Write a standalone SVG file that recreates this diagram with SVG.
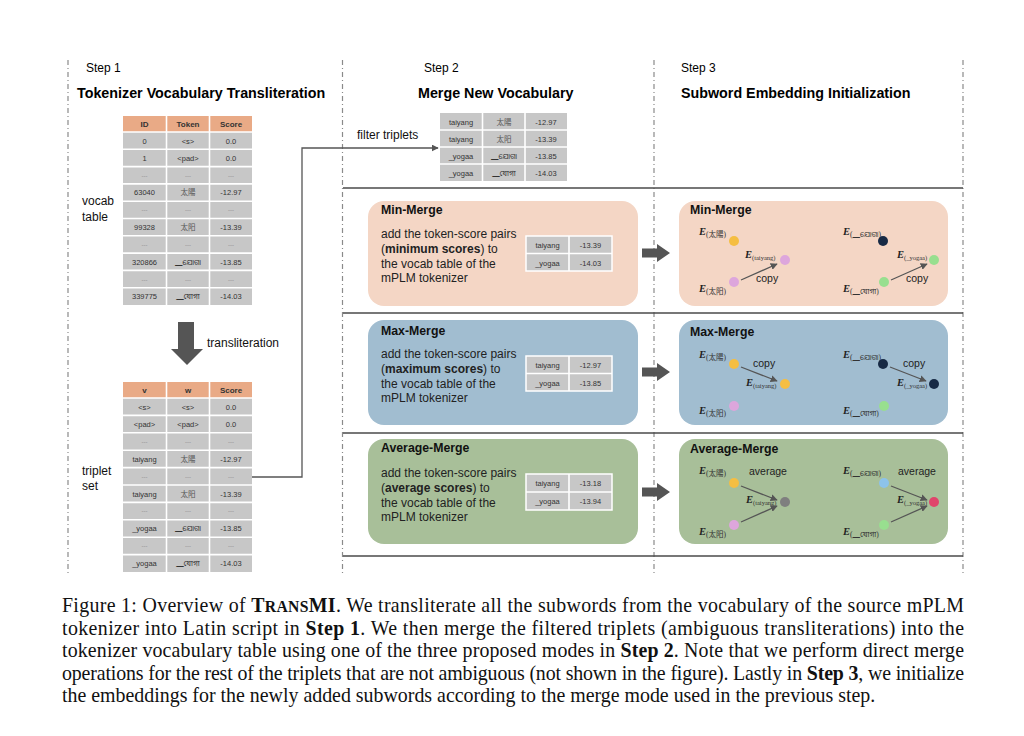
<svg xmlns="http://www.w3.org/2000/svg" width="1024" height="736" viewBox="0 0 1024 736">
<defs>
<style>
.hdr{font-family:"Liberation Sans",Arial,sans-serif;font-size:14.3px;font-weight:bold;fill:#000}
.step{font-family:"Liberation Sans",Arial,sans-serif;font-size:12px;fill:#000}
.lbl{font-family:"Liberation Sans",Arial,sans-serif;font-size:12px;fill:#111}
.hcell{fill:#E9AA86}
.cell{fill:#C7C7C7}
.grid{stroke:#fff;stroke-width:1.6}
.ct{font-family:"Liberation Sans",Arial,"Noto Sans Bengali","Noto Sans Oriya","Noto Sans CJK JP",sans-serif;font-size:7.5px;fill:#333;text-anchor:middle}
.cjk{font-family:"Noto Sans CJK JP","Noto Sans CJK SC",serif;font-size:7.5px;fill:#555;text-anchor:middle}
.cth{font-family:"Liberation Sans",Arial,sans-serif;font-size:8px;font-weight:bold;fill:#333;text-anchor:middle}
.dd{font-family:"Liberation Sans",Arial,sans-serif;font-size:6px;fill:#888;text-anchor:middle}
.dash{stroke:#8a8a8a;stroke-width:1.2;stroke-dasharray:5 3 1 3;fill:none}
.sep{stroke:#4a4a4a;stroke-width:1.4}
.ttl{font-family:"Liberation Sans",Arial,sans-serif;font-size:12.3px;font-weight:bold;fill:#111}
.body{font-family:"Liberation Sans",Arial,sans-serif;font-size:12px;fill:#222}
.small{font-family:"Liberation Sans",Arial,sans-serif;font-size:10.5px;fill:#222}
.E{font-family:"Liberation Serif","Times New Roman",serif;font-size:10.5px;font-weight:bold;font-style:italic;fill:#222}
.sub{font-family:"Liberation Serif","Noto Sans CJK JP","Noto Sans Bengali","Noto Sans Oriya",serif;font-size:7.5px;fill:#333}
.subl{font-family:"Liberation Serif","Times New Roman",serif;font-size:6.5px;fill:#333}
.bigarrow{fill:#555}
.thin{stroke:#555;stroke-width:1.3;fill:none}
.cap{font-family:"Liberation Serif","Times New Roman",serif;font-size:19.9px;fill:#111}
</style>
<marker id="ah" viewBox="0 0 10 10" refX="9" refY="5" markerWidth="7" markerHeight="7" orient="auto" markerUnits="userSpaceOnUse">
<path d="M0,0 L10,5 L0,10 z" fill="#555"/>
</marker>
</defs>
<rect width="1024" height="736" fill="#fff"/>

<g id="frame">
<line class="dash" x1="68" y1="60" x2="68" y2="576"/>
<line class="dash" x1="342.5" y1="60" x2="342.5" y2="576"/>
<line class="dash" x1="654" y1="60" x2="654" y2="576"/>
<line class="dash" x1="963" y1="60" x2="963" y2="576"/>
<line class="sep" x1="343" y1="188" x2="963" y2="188"/>
<line class="sep" x1="343" y1="313" x2="963" y2="313"/>
<line class="sep" x1="343" y1="433" x2="963" y2="433"/>
<line class="sep" x1="343" y1="556" x2="963" y2="556"/>
</g>

<g id="headers">
<text class="step" x="86" y="72">Step 1</text>
<text class="hdr" x="77" y="98">Tokenizer Vocabulary Transliteration</text>
<text class="step" x="424" y="72">Step 2</text>
<text class="hdr" x="418" y="98">Merge New Vocabulary</text>
<text class="step" x="681" y="72">Step 3</text>
<text class="hdr" x="681" y="98">Subword Embedding Initialization</text>
</g>

<g id="vocab-table">
<text class="lbl" x="82" y="205">vocab</text>
<text class="lbl" x="82" y="221">table</text>
<rect class="hcell" x="123" y="116" width="129" height="16"/>
<rect class="cell" x="123" y="132" width="129" height="173"/>
<g class="grid">
<line x1="166.5" y1="116" x2="166.5" y2="305"/><line x1="209.5" y1="116" x2="209.5" y2="305"/>
<line x1="123" y1="132" x2="252" y2="132"/><line x1="123" y1="149.3" x2="252" y2="149.3"/>
<line x1="123" y1="166.6" x2="252" y2="166.6"/><line x1="123" y1="183.9" x2="252" y2="183.9"/>
<line x1="123" y1="201.2" x2="252" y2="201.2"/><line x1="123" y1="218.5" x2="252" y2="218.5"/>
<line x1="123" y1="235.8" x2="252" y2="235.8"/><line x1="123" y1="253.1" x2="252" y2="253.1"/>
<line x1="123" y1="270.4" x2="252" y2="270.4"/><line x1="123" y1="287.7" x2="252" y2="287.7"/>
</g>
<text class="cth" x="144.5" y="127">ID</text><text class="cth" x="188" y="127">Token</text><text class="cth" x="231" y="127">Score</text>
<text class="ct" x="144.5" y="143.5">0</text><text class="ct" x="188" y="143.5">&lt;s&gt;</text><text class="ct" x="231" y="143.5">0.0</text>
<text class="ct" x="144.5" y="160.8">1</text><text class="ct" x="188" y="160.8">&lt;pad&gt;</text><text class="ct" x="231" y="160.8">0.0</text>
<text class="dd" x="144.5" y="177.5">---</text><text class="dd" x="188" y="177.5">---</text><text class="dd" x="231" y="177.5">---</text>
<text class="ct" x="144.5" y="195.4">63040</text><text class="cjk" x="188" y="195.4">太陽</text><text class="ct" x="231" y="195.4">-12.97</text>
<text class="dd" x="144.5" y="212">---</text><text class="dd" x="188" y="212">---</text><text class="dd" x="231" y="212">---</text>
<text class="ct" x="144.5" y="230">99328</text><text class="cjk" x="188" y="230">太阳</text><text class="ct" x="231" y="230">-13.39</text>
<text class="dd" x="144.5" y="247">---</text><text class="dd" x="188" y="247">---</text><text class="dd" x="231" y="247">---</text>
<text class="ct" x="144.5" y="264.6">320866</text><text class="ct" x="188" y="264.6">▁ଯୋଗା</text><text class="ct" x="231" y="264.6">-13.85</text>
<text class="dd" x="144.5" y="281.5">---</text><text class="dd" x="188" y="281.5">---</text><text class="dd" x="231" y="281.5">---</text>
<text class="ct" x="144.5" y="299">339775</text><text class="ct" x="188" y="299">▁যোগা</text><text class="ct" x="231" y="299">-14.03</text>
</g>

<g id="translit-arrow">
<polygon class="bigarrow" points="178,322 194,322 194,349 203,349 187,365 171,349 178,349"/>
<text class="lbl" x="207" y="347">transliteration</text>
</g>

<g id="triplet-table">
<text class="lbl" x="82" y="475">triplet</text>
<text class="lbl" x="82" y="490">set</text>
<rect class="hcell" x="123" y="382" width="129" height="16"/>
<rect class="cell" x="123" y="398" width="129" height="174"/>
<g class="grid">
<line x1="166.5" y1="382" x2="166.5" y2="572"/><line x1="209.5" y1="382" x2="209.5" y2="572"/>
<line x1="123" y1="398" x2="252" y2="398"/><line x1="123" y1="415.4" x2="252" y2="415.4"/>
<line x1="123" y1="432.8" x2="252" y2="432.8"/><line x1="123" y1="450.2" x2="252" y2="450.2"/>
<line x1="123" y1="467.6" x2="252" y2="467.6"/><line x1="123" y1="485" x2="252" y2="485"/>
<line x1="123" y1="502.4" x2="252" y2="502.4"/><line x1="123" y1="519.8" x2="252" y2="519.8"/>
<line x1="123" y1="537.2" x2="252" y2="537.2"/><line x1="123" y1="554.6" x2="252" y2="554.6"/>
</g>
<text class="cth" x="144.5" y="393">v</text><text class="cth" x="188" y="393">w</text><text class="cth" x="231" y="393">Score</text>
<text class="ct" x="144.5" y="409.5">&lt;s&gt;</text><text class="ct" x="188" y="409.5">&lt;s&gt;</text><text class="ct" x="231" y="409.5">0.0</text>
<text class="ct" x="144.5" y="427">&lt;pad&gt;</text><text class="ct" x="188" y="427">&lt;pad&gt;</text><text class="ct" x="231" y="427">0.0</text>
<text class="dd" x="144.5" y="443.5">---</text><text class="dd" x="188" y="443.5">---</text><text class="dd" x="231" y="443.5">---</text>
<text class="ct" x="144.5" y="461.8">taiyang</text><text class="cjk" x="188" y="461.8">太陽</text><text class="ct" x="231" y="461.8">-12.97</text>
<text class="dd" x="144.5" y="478.5">---</text><text class="dd" x="188" y="478.5">---</text><text class="dd" x="231" y="478.5">---</text>
<text class="ct" x="144.5" y="496.6">taiyang</text><text class="cjk" x="188" y="496.6">太阳</text><text class="ct" x="231" y="496.6">-13.39</text>
<text class="dd" x="144.5" y="513">---</text><text class="dd" x="188" y="513">---</text><text class="dd" x="231" y="513">---</text>
<text class="ct" x="144.5" y="531.4">_yogaa</text><text class="ct" x="188" y="531.4">▁ଯୋଗା</text><text class="ct" x="231" y="531.4">-13.85</text>
<text class="dd" x="144.5" y="548">---</text><text class="dd" x="188" y="548">---</text><text class="dd" x="231" y="548">---</text>
<text class="ct" x="144.5" y="566">_yogaa</text><text class="ct" x="188" y="566">▁যোগা</text><text class="ct" x="231" y="566">-14.03</text>
</g>

<g id="connectors">
<path class="thin" d="M252,477 H302 V148 H438" marker-end="url(#ah)"/>
<polygon class="bigarrow" points="642,248.5 657,248.5 657,244 670,253 657,262 657,257.5 642,257.5"/>
<polygon class="bigarrow" points="642,367.5 657,367.5 657,363 670,372 657,381 657,376.5 642,376.5"/>
<polygon class="bigarrow" points="642,487.5 657,487.5 657,483 670,492 657,501 657,496.5 642,496.5"/>
</g>

<g id="filtered-table">
<text class="lbl" x="357" y="139">filter triplets</text>
<rect class="cell" x="440" y="113" width="127" height="68"/>
<g class="grid">
<line x1="482.5" y1="113" x2="482.5" y2="181"/><line x1="525" y1="113" x2="525" y2="181"/>
<line x1="440" y1="130" x2="567" y2="130"/><line x1="440" y1="147" x2="567" y2="147"/><line x1="440" y1="164" x2="567" y2="164"/>
</g>
<text class="ct" x="461" y="124.5">taiyang</text><text class="cjk" x="504" y="124.5">太陽</text><text class="ct" x="546" y="124.5">-12.97</text>
<text class="ct" x="461" y="141.5">taiyang</text><text class="cjk" x="504" y="141.5">太阳</text><text class="ct" x="546" y="141.5">-13.39</text>
<text class="ct" x="461" y="158.5">_yogaa</text><text class="ct" x="504" y="158.5">▁ଯୋଗା</text><text class="ct" x="546" y="158.5">-13.85</text>
<text class="ct" x="461" y="175.5">_yogaa</text><text class="ct" x="504" y="175.5">▁যোগা</text><text class="ct" x="546" y="175.5">-14.03</text>
</g>

<g id="min-merge-vocab">
<rect x="368" y="201" width="270" height="105" rx="16" fill="#F4D6C5"/>
<text class="ttl" x="381" y="214">Min-Merge</text>
<text class="body" x="381" y="238">add the token-score pairs</text>
<text class="body" x="381" y="253">(<tspan font-weight="bold">minimum scores</tspan>) to</text>
<text class="body" x="381" y="268">the vocab table of the</text>
<text class="body" x="381" y="282">mPLM tokenizer</text>
<rect class="cell" x="526" y="236" width="86" height="35"/>
<g class="grid"><line x1="569" y1="236" x2="569" y2="271"/><line x1="526" y1="253.5" x2="612" y2="253.5"/></g>
<rect x="526" y="236" width="86" height="35" fill="none" stroke="#fff" stroke-width="1.5"/>
<text class="ct" x="547.5" y="248">taiyang</text><text class="ct" x="590.5" y="248">-13.39</text>
<text class="ct" x="547.5" y="265.5">_yogaa</text><text class="ct" x="590.5" y="265.5">-14.03</text>
</g>

<g id="max-merge-vocab">
<rect x="368" y="320" width="270" height="105" rx="16" fill="#A1BDD0"/>
<text class="ttl" x="381" y="335">Max-Merge</text>
<text class="body" x="381" y="358">add the token-score pairs</text>
<text class="body" x="381" y="373">(<tspan font-weight="bold">maximum scores</tspan>) to</text>
<text class="body" x="381" y="388">the vocab table of the</text>
<text class="body" x="381" y="402">mPLM tokenizer</text>
<rect class="cell" x="526" y="356" width="86" height="35"/>
<g class="grid"><line x1="569" y1="356" x2="569" y2="391"/><line x1="526" y1="373.5" x2="612" y2="373.5"/></g>
<rect x="526" y="356" width="86" height="35" fill="none" stroke="#fff" stroke-width="1.5"/>
<text class="ct" x="547.5" y="368">taiyang</text><text class="ct" x="590.5" y="368">-12.97</text>
<text class="ct" x="547.5" y="385.5">_yogaa</text><text class="ct" x="590.5" y="385.5">-13.85</text>
</g>

<g id="avg-merge-vocab">
<rect x="368" y="439" width="270" height="105" rx="16" fill="#A8BF99"/>
<text class="ttl" x="381" y="452">Average-Merge</text>
<text class="body" x="381" y="477">add the token-score pairs</text>
<text class="body" x="381" y="492">(<tspan font-weight="bold">average scores</tspan>) to</text>
<text class="body" x="381" y="507">the vocab table of the</text>
<text class="body" x="381" y="521">mPLM tokenizer</text>
<rect class="cell" x="526" y="474" width="86" height="36"/>
<g class="grid"><line x1="569" y1="474" x2="569" y2="510"/><line x1="526" y1="492" x2="612" y2="492"/></g>
<rect x="526" y="474" width="86" height="36" fill="none" stroke="#fff" stroke-width="1.5"/>
<text class="ct" x="547.5" y="486">taiyang</text><text class="ct" x="590.5" y="486">-13.18</text>
<text class="ct" x="547.5" y="504">_yogaa</text><text class="ct" x="590.5" y="504">-13.94</text>
</g>

<g id="min-merge-emb">
<rect x="679" y="201" width="269" height="105" rx="16" fill="#F4D6C5"/>
<text class="ttl" x="690" y="214">Min-Merge</text>
<text x="699" y="235"><tspan class="E">E</tspan><tspan class="sub" dy="2">(太陽)</tspan></text>
<circle cx="734" cy="241" r="5" fill="#F5BE42"/>
<text x="745" y="258"><tspan class="E">E</tspan><tspan class="subl" dy="2">(taiyang)</tspan></text>
<circle cx="785" cy="260" r="5" fill="#DDA6DC"/>
<circle cx="734" cy="282" r="5" fill="#DDA6DC"/>
<text x="699" y="292"><tspan class="E">E</tspan><tspan class="sub" dy="2">(太阳)</tspan></text>
<line class="thin" x1="741" y1="280" x2="777" y2="264" marker-end="url(#ah)"/>
<text class="small" x="756" y="282">copy</text>
<text x="843" y="235"><tspan class="E">E</tspan><tspan class="sub" dy="2">(▁ଯୋଗା)</tspan></text>
<circle cx="883" cy="241" r="5" fill="#172A45"/>
<text x="897" y="258"><tspan class="E">E</tspan><tspan class="subl" dy="2">(_yogaa)</tspan></text>
<circle cx="934" cy="260" r="5" fill="#98DF8F"/>
<circle cx="884" cy="282" r="5" fill="#98DF8F"/>
<text x="843" y="292"><tspan class="E">E</tspan><tspan class="sub" dy="2">(▁যোগা)</tspan></text>
<line class="thin" x1="891" y1="280" x2="927" y2="264" marker-end="url(#ah)"/>
<text class="small" x="906" y="282">copy</text>
</g>

<g id="max-merge-emb">
<rect x="679" y="320" width="269" height="105" rx="16" fill="#A1BDD0"/>
<text class="ttl" x="690" y="336">Max-Merge</text>
<text x="699" y="358"><tspan class="E">E</tspan><tspan class="sub" dy="2">(太陽)</tspan></text>
<circle cx="734" cy="364" r="5" fill="#F5BE42"/>
<text class="small" x="753" y="367">copy</text>
<line class="thin" x1="741" y1="367" x2="777" y2="381" marker-end="url(#ah)"/>
<text x="746" y="386"><tspan class="E">E</tspan><tspan class="subl" dy="2">(taiyang)</tspan></text>
<circle cx="785" cy="384" r="5" fill="#F5BE42"/>
<circle cx="734" cy="406" r="5" fill="#DDA6DC"/>
<text x="699" y="414"><tspan class="E">E</tspan><tspan class="sub" dy="2">(太阳)</tspan></text>
<text x="843" y="358"><tspan class="E">E</tspan><tspan class="sub" dy="2">(▁ଯୋଗା)</tspan></text>
<circle cx="883" cy="364" r="5" fill="#172A45"/>
<text class="small" x="903" y="367">copy</text>
<line class="thin" x1="890" y1="367" x2="926" y2="381" marker-end="url(#ah)"/>
<text x="897" y="386"><tspan class="E">E</tspan><tspan class="subl" dy="2">(_yogaa)</tspan></text>
<circle cx="934" cy="384" r="5" fill="#172A45"/>
<circle cx="884" cy="406" r="5" fill="#98DF8F"/>
<text x="843" y="414"><tspan class="E">E</tspan><tspan class="sub" dy="2">(▁যোগা)</tspan></text>
</g>

<g id="avg-merge-emb">
<rect x="679" y="439" width="269" height="105" rx="16" fill="#A8BF99"/>
<text class="ttl" x="690" y="453">Average-Merge</text>
<text x="699" y="474"><tspan class="E">E</tspan><tspan class="sub" dy="2">(太陽)</tspan></text>
<circle cx="734" cy="483" r="5" fill="#F5BE42"/>
<text class="small" x="749" y="475">average</text>
<line class="thin" x1="741" y1="486" x2="777" y2="500" marker-end="url(#ah)"/>
<text x="746" y="503"><tspan class="E">E</tspan><tspan class="subl" dy="2">(taiyang)</tspan></text>
<circle cx="785" cy="502" r="5" fill="#7F7F7F"/>
<circle cx="734" cy="525" r="5" fill="#DDA6DC"/>
<line class="thin" x1="741" y1="522" x2="777" y2="506" marker-end="url(#ah)"/>
<text x="699" y="535"><tspan class="E">E</tspan><tspan class="sub" dy="2">(太阳)</tspan></text>
<text x="843" y="474"><tspan class="E">E</tspan><tspan class="sub" dy="2">(▁ଯୋଗା)</tspan></text>
<circle cx="884" cy="483" r="5" fill="#8DC3EA"/>
<text class="small" x="898" y="475">average</text>
<line class="thin" x1="891" y1="486" x2="927" y2="500" marker-end="url(#ah)"/>
<text x="897" y="503"><tspan class="E">E</tspan><tspan class="subl" dy="2">(_yogaa)</tspan></text>
<circle cx="934" cy="502" r="5" fill="#E0456B"/>
<circle cx="884" cy="525" r="5" fill="#98DF8F"/>
<line class="thin" x1="891" y1="522" x2="927" y2="506" marker-end="url(#ah)"/>
<text x="843" y="535"><tspan class="E">E</tspan><tspan class="sub" dy="2">(▁যোগা)</tspan></text>
</g>

<g id="caption">
<text class="cap" x="62" y="612" textLength="902" lengthAdjust="spacing">Figure 1: Overview of <tspan font-weight="bold">T<tspan font-size="15.7">RANS</tspan>MI</tspan>. We transliterate all the subwords from the vocabulary of the source mPLM</text>
<text class="cap" x="62" y="634.6" textLength="902" lengthAdjust="spacing">tokenizer into Latin script in <tspan font-weight="bold">Step 1</tspan>.  We then merge the filtered triplets (ambiguous transliterations) into the</text>
<text class="cap" x="62" y="657.2" textLength="902" lengthAdjust="spacing">tokenizer vocabulary table using one of the three proposed modes in <tspan font-weight="bold">Step 2</tspan>. Note that we perform direct merge</text>
<text class="cap" x="62" y="679.8" textLength="902" lengthAdjust="spacing">operations for the rest of the triplets that are not ambiguous (not shown in the figure). Lastly in <tspan font-weight="bold">Step 3</tspan>, we initialize</text>
<text class="cap" x="62" y="702.4">the embeddings for the newly added subwords according to the merge mode used in the previous step.</text>
</g>
</svg>
